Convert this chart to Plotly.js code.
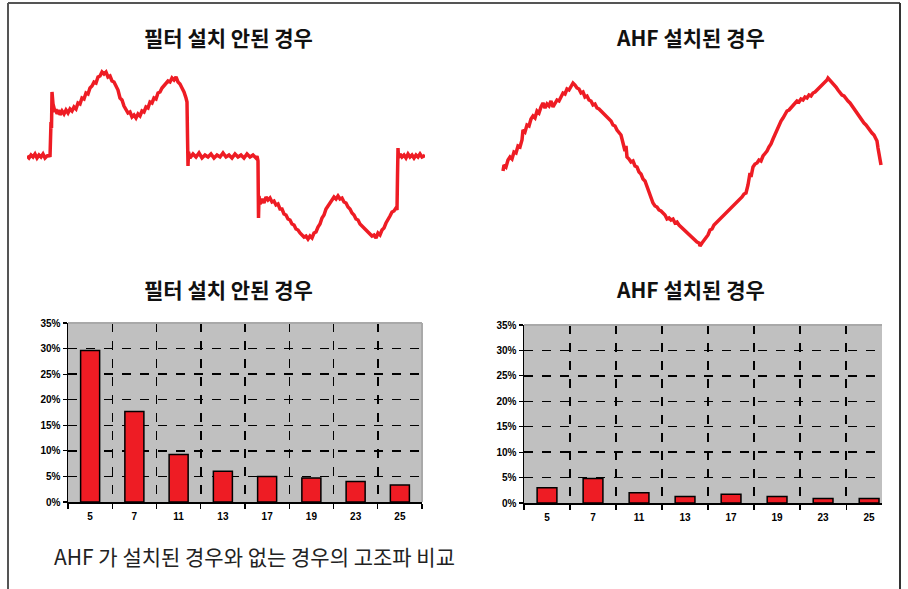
<!DOCTYPE html>
<html>
<head>
<meta charset="utf-8">
<script src="https://cdn.plot.ly/plotly-3.0.1.min.js"></script>
<style>
html,body{margin:0;padding:0;background:#fff;}
#chart{width:908px;height:589px;}
</style>
</head>
<body>
<div id="chart"></div>
<script>
// ---------- DATA ----------
const harmonics = ['5','7','11','13','17','19','23','25'];
const noFilterPct = [29.6, 17.7, 9.3, 6.0, 5.0, 4.7, 4.0, 3.3];
const ahfPct = [3.0, 4.8, 2.0, 1.3, 1.7, 1.3, 0.9, 0.9];
const yTickVals = [0, 5, 10, 15, 20, 25, 30, 35];
const yTickText = ['0%', '5%', '10%', '15%', '20%', '25%', '30%', '35%'];

const titleNoFilter = '필터 설치 안된 경우';
const titleAhf = 'AHF 설치된 경우';
const caption = 'AHF 가 설치된 경우와 없는 경우의 고조파 비교';

// waveform without filter (time, amplitude)
const waveNoFilterT = [0,2,4,6,8,10,12,14,16,18,20,22,23,
 23.5,24,24.5,25,26,27,28,29,30,32,33,35,37,39,41,43,45,47,49,51,53,55,57,59,61,63,65,67,69,71,73,75,77,79,81,83,85,87,89,91,93,95,97,99,101,103,105,107,109,111,113,115,117,119,121,123,125,127,129,131,133,135,137,139,141,143,145,147,149,151,153,155,157,159,160,
 160.5,161,161.5,163,166,169,172,175,178,181,184,187,190,193,196,199,202,205,208,211,214,217,220,223,226,229,230,
 231,231.5,232,233,235,237,239,241,243,245,247,249,251,253,255,257,259,261,263,265,267,269,271,273,275,277,279,281,283,285,287,289,291,293,295,297,299,301,303,305,307,309,311,313,315,317,319,321,323,325,327,329,331,333,335,337,339,341,343,345,347,349,351,353,355,357,359,361,363,365,367,369,370,
 370.5,371,371.5,373,375,377,379,381,383,385,387,389,391,393,395,397,398];
const waveNoFilterA = [0,-2,1,-1,2,-2,1,-1,2,-2,0,1,-1,
 30,34,28,64,52,48,44,47,42,46,41,45,42,46,43,47,45,49,47,53,52,58,57,63,62,68,70,74,73,79,80,84,82,84,79,80,75,74,69,66,58,56,50,47,43,44,39,41,38,42,40,45,44,49,48,54,53,58,57,63,64,68,70,72,75,74,78,76,79,74,72,68,64,58,54,
 20,-10,4,-2,2,-1,3,-2,1,-1,2,-2,1,-1,3,-1,1,-2,2,-1,1,-2,2,-1,1,-2,0,
 -5,-62,-40,-48,-43,-47,-41,-44,-42,-46,-45,-49,-48,-53,-53,-58,-59,-63,-64,-68,-69,-73,-74,-77,-79,-81,-80,-83,-80,-82,-77,-76,-71,-68,-62,-59,-53,-50,-46,-44,-41,-43,-40,-43,-42,-46,-47,-51,-53,-57,-59,-63,-64,-68,-70,-72,-74,-76,-78,-80,-79,-82,-77,-79,-74,-72,-67,-64,-60,-56,-55,-52,-54,
 -20,8,-2,2,-1,1,-2,2,-1,1,-2,1,-1,2,-1,0,1];

// waveform with AHF (time, amplitude)
const waveAhfT = [3,4,6,8,10,12,14,16,18,20,22,23,25,27,29,31,33,35,37,39,41,43,45,47,49,51,53,55,57,59,61,63,65,67,69,71,73,75,77,79,81,83,85,87,89,91,93,95,97,99,101,103,105,107,109,111,113,115,117,119,121,123,125,126,127,129,131,133,135,137,139,141,143,145,147,149,151,153,155,157,159,161,163,165,167,169,171,173,175,177,179,181,183,185,187,189,191,193,195,197,199,200,202,204,206,208,210,212,214,216,218,220,222,224,226,228,230,232,234,236,238,240,242,244,246,248,250,251,253,255,257,259,261,263,265,267,269,271,273,275,277,279,281,283,285,287,289,291,293,295,297,299,301,303,305,307,309,311,313,315,317,319,321,323,325,327,328,330,332,334,336,338,340,342,344,346,348,350,352,354,356,358,360,362,364,366,368,370,372,374,376,377,378,379,380,381];
const waveAhfA = [-8,-2,-4,3,6,4,11,10,17,16,23,33,31,38,37,44,47,45,52,50,56,60,55,59,57,62,56,60,63,62,67,70,69,74,73,77,80,78,75,74,70,71,66,67,63,62,58,59,55,54,52,49,47,45,43,42,38,37,33,31,28,20,12,17,6,4,1,2,-3,-4,-9,-11,-16,-18,-24,-28,-34,-40,-43,-44,-47,-48,-50,-52,-56,-55,-57,-56,-60,-59,-62,-64,-65,-68,-70,-71,-73,-75,-77,-79,-80,-83,-80,-77,-75,-72,-67,-66,-62,-60,-58,-57,-54,-53,-50,-49,-46,-45,-42,-41,-38,-37,-34,-31,-30,-22,-10,-14,-4,-1,0,3,2,7,9,12,16,19,24,29,33,38,42,45,49,52,53,55,58,59,62,61,64,63,66,65,68,67,70,71,73,74,76,78,80,83,85,83,80,78,76,73,70,68,67,64,62,60,57,55,52,48,46,43,40,38,35,33,30,28,24,22,15,10,6,-2];

// ---------- LAYOUT HELPERS ----------
const W = 908, H = 589;
const px = (a, b) => [a / W, b / W];
const py = (top, bottom) => [1 - bottom / H, 1 - top / H];

const red = '#ee1c24';
const waveLine = {color: red, width: 3.5};
const tickFont = {family: 'Liberation Sans, Arial, sans-serif', size: 10, color: '#000', weight: 'bold'};

const traces = [
  {type: 'scatter', mode: 'lines', x: waveNoFilterT, y: waveNoFilterA, line: waveLine, xaxis: 'x', yaxis: 'y', hoverinfo: 'skip'},
  {type: 'scatter', mode: 'lines', x: waveAhfT, y: waveAhfA, line: waveLine, xaxis: 'x2', yaxis: 'y2', hoverinfo: 'skip'},
  {type: 'bar', x: harmonics, y: noFilterPct, width: 0.43, marker: {color: red, line: {color: '#000', width: 1.5}}, xaxis: 'x3', yaxis: 'y3'},
  {type: 'bar', x: harmonics, y: ahfPct, width: 0.43, marker: {color: red, line: {color: '#000', width: 1.5}}, xaxis: 'x4', yaxis: 'y4'}
];

const hidden = {visible: false, fixedrange: true};

function barX(domain, range, anchor) {
  return {
    domain: domain, anchor: anchor, type: 'category', range: range,
    tickson: 'boundaries', ticks: 'outside', ticklen: 5, tickwidth: 1.2, tickcolor: '#000',
    ticklabelstandoff: 4,
    showline: true, linecolor: '#000', linewidth: 1.5,
    showgrid: true, gridcolor: '#000', gridwidth: 1.5, griddash: 'dash',
    tickfont: tickFont, zeroline: false
  };
}
function barY(domain, anchor) {
  return {
    domain: domain, anchor: anchor, range: [0, 35], tickmode: 'array', tickvals: yTickVals, ticktext: yTickText,
    ticks: 'outside', ticklen: 4, tickwidth: 1.2, tickcolor: '#000',
    showline: true, linecolor: '#000', linewidth: 1.5,
    showgrid: true, gridcolor: '#000', gridwidth: 1.5, griddash: 'dash',
    tickfont: tickFont, zeroline: false
  };
}

const titleFont = {family: 'Noto Sans CJK KR, sans-serif', size: 21, color: '#111', weight: 'bold'};

const layout = {
  width: W, height: H,
  margin: {l: 0, r: 0, t: 0, b: 0},
  paper_bgcolor: '#fff', plot_bgcolor: 'rgba(0,0,0,0)',
  showlegend: false,
  xaxis: Object.assign({domain: px(27, 425), range: [0, 398], anchor: 'y'}, hidden),
  yaxis: Object.assign({domain: py(66, 246), range: [-90, 90], anchor: 'x'}, hidden),
  xaxis2: Object.assign({domain: px(500, 884), range: [0, 384], anchor: 'y2'}, hidden),
  yaxis2: Object.assign({domain: py(73, 253), range: [-90, 90], anchor: 'x2'}, hidden),
  xaxis3: barX(px(68, 422), [-0.5, 7.5], 'y3'),
  yaxis3: barY(py(323, 502), 'x3'),
  xaxis4: barX(px(524, 882), [-0.5, 7.28], 'y4'),
  yaxis4: barY(py(325, 503), 'x4'),
  shapes: [
    // frame
    {type: 'line', xref: 'paper', yref: 'paper', x0: 8/W, x1: 8/W, y0: 1 - 3/H, y1: -0.05, line: {color: '#555', width: 2}},
    {type: 'line', xref: 'paper', yref: 'paper', x0: 8/W, x1: 900/W, y0: 1 - 3/H, y1: 1 - 3/H, line: {color: '#555', width: 2}},
    {type: 'line', xref: 'paper', yref: 'paper', x0: 900/W, x1: 900/W, y0: 1 - 3/H, y1: -0.05, line: {color: '#333', width: 2}},
    // gray plot areas
    {type: 'rect', xref: 'x3 domain', yref: 'y3 domain', x0: 0, x1: 1, y0: 0, y1: 1, fillcolor: '#c0c0c0', line: {width: 0}, layer: 'below'},
    {type: 'rect', xref: 'x4 domain', yref: 'y4 domain', x0: 0, x1: 1, y0: 0, y1: 1, fillcolor: '#c0c0c0', line: {width: 0}, layer: 'below'},
    // top/right edges of plot areas
    {type: 'line', xref: 'x3 domain', yref: 'y3 domain', x0: 0, x1: 1, y0: 1, y1: 1, line: {color: '#a9a9a9', width: 2}, layer: 'above'},
    {type: 'line', xref: 'x3 domain', yref: 'y3 domain', x0: 1, x1: 1, y0: 0, y1: 1, line: {color: '#a9a9a9', width: 2}, layer: 'above'},
    {type: 'line', xref: 'x4 domain', yref: 'y4 domain', x0: 0, x1: 1, y0: 1, y1: 1, line: {color: '#a9a9a9', width: 2}, layer: 'above'}
  ],
  annotations: [
    {text: titleNoFilter, xref: 'paper', yref: 'paper', x: 228/W, y: 1 - 37/H, showarrow: false, font: titleFont, xanchor: 'center', yanchor: 'middle'},
    {text: titleAhf, xref: 'paper', yref: 'paper', x: 690/W, y: 1 - 37/H, showarrow: false, font: titleFont, xanchor: 'center', yanchor: 'middle'},
    {text: titleNoFilter, xref: 'paper', yref: 'paper', x: 228/W, y: 1 - 289/H, showarrow: false, font: titleFont, xanchor: 'center', yanchor: 'middle'},
    {text: titleAhf, xref: 'paper', yref: 'paper', x: 690/W, y: 1 - 289/H, showarrow: false, font: titleFont, xanchor: 'center', yanchor: 'middle'},
    {text: caption, xref: 'paper', yref: 'paper', x: 52/W, y: 1 - 556/H, showarrow: false, font: {family: 'Noto Sans CJK KR, sans-serif', size: 21, color: '#222'}, xanchor: 'left', yanchor: 'middle'}
  ]
};

Plotly.newPlot('chart', traces, layout, {staticPlot: true, displayModeBar: false});
</script>
</body>
</html>
